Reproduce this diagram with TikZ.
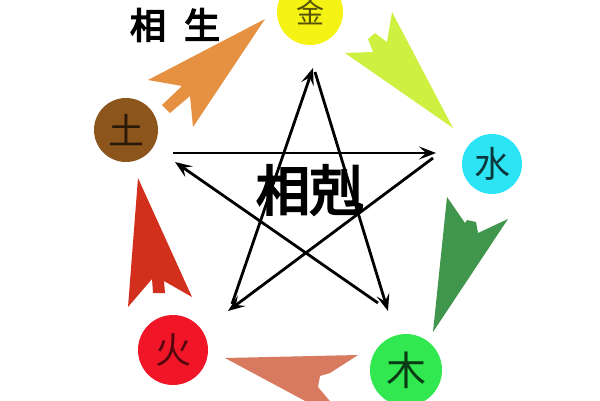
\documentclass[tikz,border=0pt]{standalone}
\usepackage{fontspec}
\newfontfamily\cjk{Noto Sans CJK SC}
\newfontfamily\cjkbold[FakeBold=4]{Noto Sans CJK SC}
\usetikzlibrary{arrows.meta}

\definecolor{jincol}{RGB}{245,243,20}
\definecolor{shuicol}{RGB}{45,228,245}
\definecolor{mucol}{RGB}{50,232,80}
\definecolor{huocol}{RGB}{240,22,40}
\definecolor{tucol}{RGB}{140,85,28}
\definecolor{orangecol}{RGB}{230,145,65}
\definecolor{limecol}{RGB}{205,240,65}
\definecolor{greencol}{RGB}{65,150,78}
\definecolor{salmoncol}{RGB}{215,122,95}
\definecolor{rustcol}{RGB}{210,48,28}

\tikzset{
  wx/.style={circle, minimum size=#1, inner sep=0pt,
    font=\cjk\fontsize{36pt}{36pt}\selectfont},
  kearrow/.style={line width=2.8pt, -{Stealth[length=17pt,width=13pt,inset=7pt]}},
}

\begin{document}
\begin{tikzpicture}[x=1pt,y=-1pt]
      \clip (0,0) rectangle (600,400);
      \fill[white] (0,0) rectangle (600,400);

      % 五行
      \node[wx=66pt, fill=jincol, text=jincol!35!black, font=\cjk\fontsize{28pt}{28pt}\selectfont] (jin) at (310,12) {\raisebox{-7pt}{金}};
      \node[wx=60pt, fill=shuicol, text=shuicol!25!black] (shui) at (492,164) {水};
      \node[wx=72pt, fill=mucol, text=mucol!25!black, font=\cjk\fontsize{40pt}{40pt}\selectfont] (mu) at (406,370) {\raisebox{-3pt}{木}};
      \node[wx=70pt, fill=huocol, text=huocol!35!black] (huo) at (173,350) {火};
      \node[wx=64pt, fill=tucol, text=tucol!30!black] (tu) at (126,130) {土};

      % 相生
      \fill[orangecol] (265,19) -- (193,127) -- (190,96) -- (170,113) -- (162,105) -- (182,86) -- (148,80) -- cycle;
      \fill[limecol] (392,12) -- (453,128) -- (345,53) -- (373,52) -- (368,39) -- (375,33) -- (387,42) -- cycle;
      \fill[greencol] (447,197) -- (465,223) -- (467,220) -- (476,222) -- (478,233) -- (508,219) -- (433,332) -- cycle;
      \fill[salmoncol] (225,358) -- (358,355) -- (330,373) -- (320,376) -- (318,387) -- (350,425) -- cycle;
      \fill[rustcol] (138,178) -- (192,297) -- (164,281) -- (165,293) -- (153,293) -- (152,279) -- (128,307) -- cycle;

      \node[font=\cjkbold\fontsize{36pt}{36pt}\selectfont] (sheng) at (175,25) {相\hspace{18pt}生};
      \node[font=\cjkbold\fontsize{54pt}{54pt}\selectfont] (ke) at (310,190) {相剋};

      % 相剋
      \coordinate (jm0) at (315,72);  \coordinate (jm1) at (388,311);
      \coordinate (mt0) at (378,303); \coordinate (mt1) at (175,162);
      \coordinate (ts0) at (173,153); \coordinate (ts1) at (436,153);
      \coordinate (sh0) at (433,158); \coordinate (sh1) at (228,311);
      \coordinate (hj0) at (232,304); \coordinate (hj1) at (313,68);

      \draw[kearrow] (jm0) -- (jm1);
      \draw[kearrow] (mt0) -- (mt1);
      \draw[kearrow] (ts0) -- (ts1);
      \draw[kearrow] (sh0) -- (sh1);
      \draw[kearrow] (hj0) -- (hj1);
    \end{tikzpicture}
\end{document}
